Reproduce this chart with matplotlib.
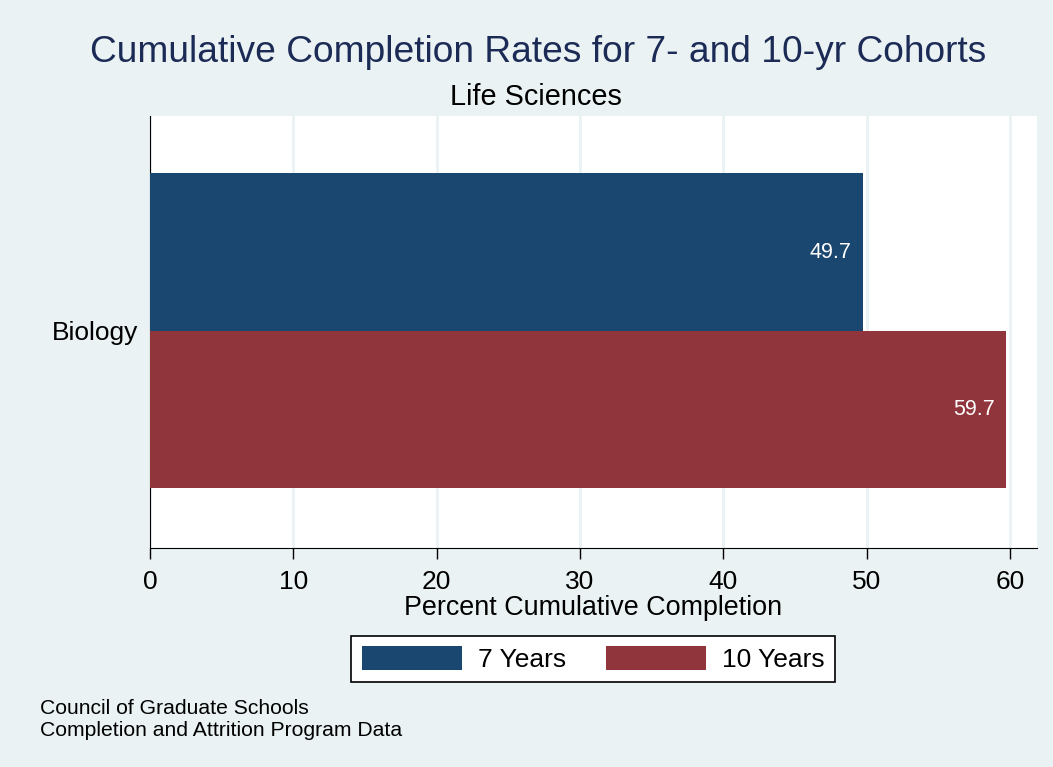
import matplotlib
matplotlib.use("Agg")
import matplotlib.pyplot as plt
from matplotlib.patches import Patch

plt.rcParams["font.family"] = ["Liberation Sans", "DejaVu Sans"]

# data
categories = ["Biology"]
series_names = ["7 Years", "10 Years"]
values_7yr = [49.7]
values_10yr = [59.7]

navy = "#1a476f"
maroon = "#90353b"
bg = "#eaf2f3"

fig = plt.figure(figsize=(10.53, 7.67), dpi=100, facecolor=bg)
ax = fig.add_axes([150 / 1053, 1 - 548 / 767, 886.7 / 1053, 432 / 767])
ax.set_facecolor("white")

h = 1.0
ax.barh([0.5], values_7yr, height=h, color=navy, zorder=3)
ax.barh([-0.5], values_10yr, height=h, color=maroon, zorder=3)

for y, v in zip([0.5, -0.5], [values_7yr[0], values_10yr[0]]):
    ax.annotate(f"{v:.1f}", xy=(v, y), xytext=(-11, 0), textcoords="offset pixels",
                ha="right", va="center", color="white", fontsize=15.5, zorder=4)

ax.set_xlim(0, 61.85)
ax.set_ylim(-1.378, 1.365)
ax.set_xticks(range(0, 61, 10))
ax.set_yticks([0])
ax.set_yticklabels(categories)
ax.grid(axis="x", color=bg, linewidth=2, zorder=1)
ax.set_axisbelow(True)

for s in ["top", "right"]:
    ax.spines[s].set_visible(False)
ax.spines["left"].set_color("black")
ax.spines["bottom"].set_color("black")
ax.tick_params(axis="x", length=7.7, width=1, pad=8, labelsize=19)
ax.tick_params(axis="y", length=0, pad=8.6, labelsize=19)
ax.set_xlabel("Percent Cumulative Completion", fontsize=19.4, labelpad=1)

fig.text(538 / 1053, 1 - 52 / 767, "Cumulative Completion Rates for 7- and 10-yr Cohorts",
         ha="center", va="center", fontsize=26.7, color="#1c2b56")
fig.text(536 / 1053, 1 - 97 / 767, "Life Sciences", ha="center", va="center",
         fontsize=20.8, color="black")

handles = [Patch(facecolor=navy, label=series_names[0]),
           Patch(facecolor=maroon, label=series_names[1])]
leg = fig.legend(handles=handles, loc="center", bbox_to_anchor=(593 / 1053, 1 - 659 / 767),
                 ncol=2, fontsize=19, frameon=True, fancybox=False, handlelength=3.8,
                 handleheight=1.0, columnspacing=1.5, handletextpad=0.6,
                 borderpad=0.4, edgecolor="black", facecolor="white", framealpha=1)
leg.get_frame().set_linewidth(1.2)

fig.text(40 / 1053, 1 - 708 / 767, "Council of Graduate Schools", ha="left", va="center",
         fontsize=15.2)
fig.text(40 / 1053, 1 - 730 / 767, "Completion and Attrition Program Data", ha="left",
         va="center", fontsize=15.2)

fig.savefig("out.png", dpi=100, facecolor=bg)
